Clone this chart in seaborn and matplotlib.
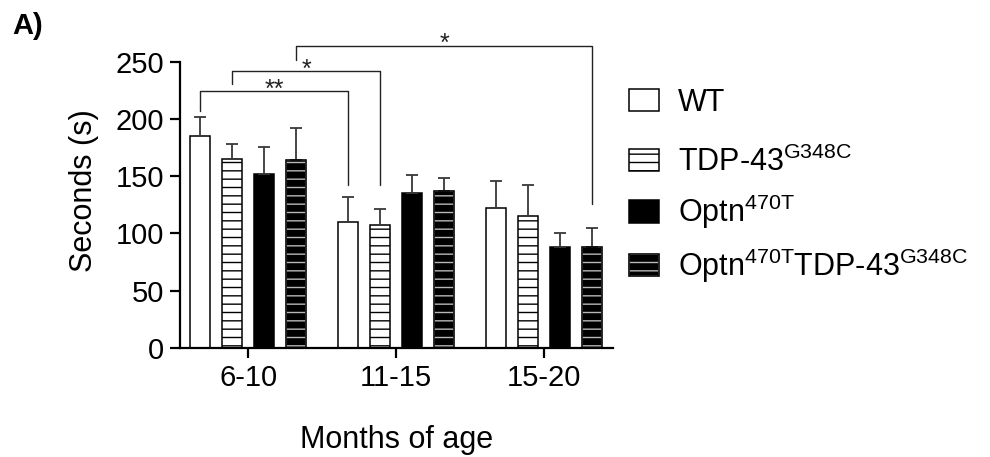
import numpy as np
import pandas as pd
import seaborn as sns
import matplotlib.pyplot as plt
from matplotlib.patches import Patch, Rectangle
from matplotlib.legend_handler import HandlerTuple

# Values
months = ["6-10", "11-15", "15-20"]
genotypes = ["WT", "TDP-43", "Optn", "Optn/TDP-43"]
wt_mean = [185, 110, 122]
wt_err = [17, 22, 24]
tdp_mean = [165, 107, 115]
tdp_err = [13, 14, 27]
optn_mean = [152, 135, 88]
optn_err = [23, 16, 12]
dbl_mean = [164, 137, 88]
dbl_err = [28, 11, 17]

legend_labels = ["WT",
                 r"TDP-43$^{\mathregular{G348C}}$",
                 r"Optn$^{\mathregular{470T}}$",
                 r"Optn$^{\mathregular{470T}}$TDP-43$^{\mathregular{G348C}}$"]

# significance brackets: (group a, hue a, group b, hue b, left foot, top, right foot, label)
brackets = [(0, 0, 1, 0, 207, 224, 142, "**"),
            (0, 1, 1, 1, 230, 242, 142, "*"),
            (0, 3, 2, 3, 251, 264, 126, "*")]

means = [wt_mean, tdp_mean, optn_mean, dbl_mean]
errs = [wt_err, tdp_err, optn_err, dbl_err]
df = pd.DataFrame({
    "months": months * 4,
    "genotype": np.repeat(genotypes, 3),
    "seconds": np.concatenate(means),
})

sns.set_style("ticks", {"axes.edgecolor": "black", "text.color": "black",
                        "axes.labelcolor": "black", "xtick.color": "black",
                        "ytick.color": "black"})
plt.rcParams["font.family"] = ["Liberation Sans", "DejaVu Sans"]
plt.rcParams["hatch.linewidth"] = 1.0

fig = plt.figure(figsize=(9.9, 4.57), dpi=100)
ax = fig.add_axes([0.1818, 0.2385, 0.4374, 0.6895])

palette = {"WT": "white", "TDP-43": "white", "Optn": "black", "Optn/TDP-43": "black"}
sns.barplot(data=df, x="months", y="seconds", hue="genotype", hue_order=genotypes,
            order=months, palette=palette, width=0.867, gap=0.38, errorbar=None,
            edgecolor="black", linewidth=1.1, legend=False, ax=ax)

centers = []
bar_conts = list(ax.containers)
for i, cont in enumerate(bar_conts):
    xs = []
    for p in cont.patches:
        xs.append(p.get_x() + p.get_width() / 2)
        if i == 1:
            p.set_hatch("--")
        if i == 3:
            p.set_edgecolor("#b8b8b8")
            p.set_hatch("--")
            ax.add_patch(Rectangle(p.get_xy(), p.get_width(), p.get_height(),
                                   fill=False, edgecolor="black", lw=1.1, zorder=p.get_zorder() + 0.1))
    centers.append(xs)
    ax.errorbar(xs, means[i], yerr=[np.zeros(3), errs[i]], fmt="none",
                ecolor="#383838", elinewidth=1.3, capsize=4, capthick=1.3, zorder=1)

for ga, ha, gb, hb, yl, ytop, yr, lab in brackets:
    xa = centers[ha][ga]
    xb = centers[hb][gb]
    ax.plot([xa, xa, xb, xb], [yl, ytop, ytop, yr], color="#222222", lw=1.0, clip_on=False)
    ax.text((xa + xb) / 2, ytop - 5, lab, ha="center", va="baseline", fontsize=18, color="#222222")

ax.set_xlim(-0.462, 2.469)
ax.set_ylim(0, 275)
ax.set_yticks([0, 50, 100, 150, 200, 250])
sns.despine(ax=ax)
ax.spines["left"].set_bounds(0, 250)
for s in ["left", "bottom"]:
    ax.spines[s].set_linewidth(1.6)
ax.tick_params(axis="both", length=7.5, width=1.6, labelsize=21, colors="black", pad=4)
ax.set_xlabel("Months of age", fontsize=22, labelpad=24)
ax.set_ylabel("Seconds (s)", fontsize=22, labelpad=12)

fig.text(0.012, 1 - 12 / 457, "A)", fontsize=21, fontweight="bold", va="top")

handles = [Patch(facecolor="white", edgecolor="black", lw=1.1),
           Patch(facecolor="white", edgecolor="black", lw=1.1, hatch="--"),
           Patch(facecolor="black", edgecolor="black", lw=1.1),
           (Patch(facecolor="black", edgecolor="#b8b8b8", lw=1.1, hatch="--"),
            Patch(facecolor="none", edgecolor="black", lw=1.1))]
leg_kw = dict(loc="upper left", frameon=False, fontsize=22, handlelength=1.0,
              handleheight=0.75, handletextpad=0.6, labelspacing=0.5,
              borderpad=0, borderaxespad=0,
              handler_map={tuple: HandlerTuple(ndivide=1, pad=0)})
# WT row on its own (no superscript), remaining rows evenly spaced
fig.legend(handles[:1], legend_labels[:1], bbox_to_anchor=(0.635, 0.808), **leg_kw)
fig.legend(handles[1:], legend_labels[1:], bbox_to_anchor=(0.635, 0.680), **leg_kw)

fig.savefig("out.png", dpi=100)
